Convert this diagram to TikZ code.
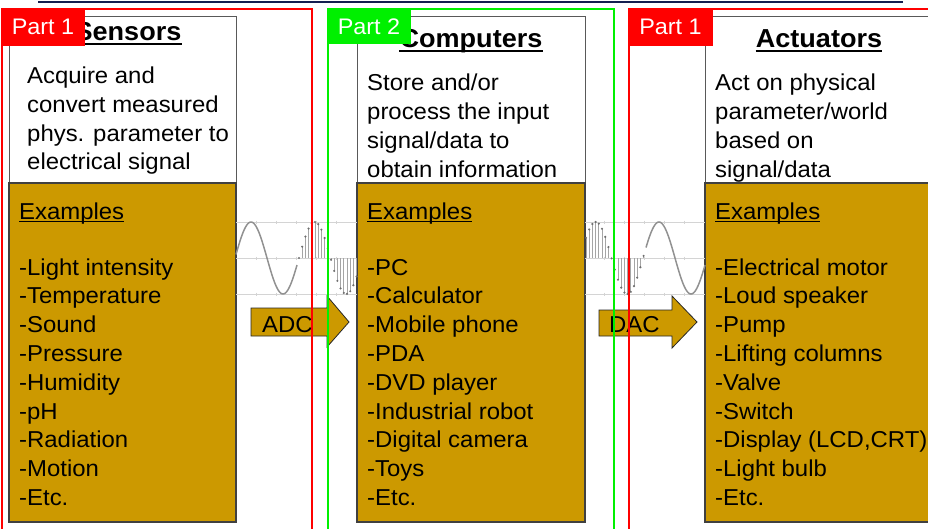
\documentclass[tikz,border=0pt]{standalone}
\usepackage{fontspec}
\setmainfont{Liberation Sans}[FakeStretch=1.04]
\definecolor{gold}{RGB}{204,153,0}
\definecolor{partred}{RGB}{255,0,0}
\definecolor{partgreen}{RGB}{0,240,0}
\definecolor{navy}{RGB}{20,30,80}
\definecolor{wavegray}{RGB}{145,145,145}
\definecolor{stemgray}{RGB}{165,165,165}
\definecolor{dotgray}{RGB}{110,110,110}
\definecolor{gridgray}{RGB}{212,212,212}
\begin{document}
\begin{tikzpicture}[x=1pt,y=-1pt,
  whitebox/.style={draw=black!65,fill=white,line width=0.8pt},
  goldbox/.style={draw=black!75,fill=gold,line width=1.3pt},
  titletext/.style={font=\fontsize{26}{30}\selectfont\bfseries,anchor=base,inner sep=0pt},
  desc/.style={font=\fontsize{23}{28}\selectfont,anchor=base west,inner sep=0pt},
  partlabel/.style={font=\fontsize{22.5}{26}\selectfont,text=white,inner sep=0pt},
  frameline/.style={line width=2pt},
  blockarrow/.style={draw=black!85,fill=gold,line width=0.8pt},
  wave/.style={draw=wavegray,line width=1.5pt},
  stemline/.style={draw=stemgray,line width=1pt},
  gridline/.style={draw=gridgray,line width=0.8pt}]
\useasboundingbox (0,0) rectangle (928,528);
\begin{scope}
\clip (0,0) rectangle (928,528);

% rule across the top
\draw[navy,line width=1.5pt] (38,2) -- (903,2);

% the three blocks: white head, gold list
\foreach \nm/\xa/\xb in {sen/9/236, com/357/585, act/705/945} {
  \draw[whitebox] (\xa,16) rectangle (\xb,183);
  \draw[goldbox] (\xa,183) rectangle (\xb,522);
}

% signal plots between the blocks
\foreach \xa/\xb in {236/357, 585/705} {
  \foreach \yy in {222,258,294}
    \draw[gridline] (\xa,\yy) -- (\xb,\yy);
}
\foreach \tx in {256,276,296,316,336,604,624,644,664,684}
  \foreach \yy in {222,258,294}
    \draw[gridgray,line width=0.8pt] (\tx,\yy-1.5) -- (\tx,\yy+1.5);

% analog input, then its samples (period 64 and 63 units)
\draw[wave] plot[domain=236:297,samples=60] (\x,{258-36*sin(5.625*(\x-235))});
\foreach \s in {299,302.2,...,357} {
  \pgfmathsetmacro{\sy}{258-36*sin(5.714*(\s-299))}
  \draw[stemline] (\s,258) -- (\s,\sy);
  \fill[dotgray] (\s,\sy) circle[radius=1.2];
}
% samples, then the rebuilt analog output
\foreach \s in {586,589.2,...,644} {
  \pgfmathsetmacro{\sy}{258-36*sin(5.714*(\s-580))}
  \draw[stemline] (\s,258) -- (\s,\sy);
  \fill[dotgray] (\s,\sy) circle[radius=1.2];
}
\draw[wave] plot[domain=646:705,samples=60] (\x,{258-36*sin(5.625*(\x-643))});

% converter arrows
\draw[blockarrow] (251,308) -- (327,308) -- (327,296) -- (349,322) -- (327,347) -- (327,336) -- (251,336) -- cycle;
\node[desc] (adc) at (262,332) {ADC};
\draw[blockarrow] (599,310) -- (672,310) -- (672,296) -- (697,322) -- (672,348) -- (672,336) -- (599,336) -- cycle;
\node[desc] (dac) at (609,332) {DAC};

% titles
\node[titletext] (tsen) at (128,40) {Sensors};
\node[titletext] (tcom) at (471,47) {Computers};
\node[titletext] (tact) at (819,47) {Actuators};
\foreach \t in {tsen,tcom,tact}
  \draw[line width=2.6pt] ([yshift=-3.8pt]\t.base west) -- ([yshift=-3.8pt]\t.base east);

% descriptions
\foreach \t [count=\i] in {Acquire and, convert measured, phys. parameter to, electrical signal}
  \node[desc] (dsen\i) at (27,{83.5+28.8*(\i-1)}) {\t};
\foreach \t [count=\i] in {Store and/or, process the input, signal/data to, obtain information}
  \node[desc] (dcom\i) at (367,{90.7+28.8*(\i-1)}) {\t};
\foreach \t [count=\i] in {Act on physical, parameter/world, based on, signal/data}
  \node[desc] (dact\i) at (715,{90.7+28.8*(\i-1)}) {\t};

% example headings
\foreach \nm/\xx in {sen/19, com/367, act/715} {
  \node[desc] (ex\nm) at (\xx,219) {Examples};
  \draw[line width=1.3pt] ([yshift=-2.6pt]ex\nm.base west) -- ([yshift=-2.6pt]ex\nm.base east);
}

% example lists
\foreach \t [count=\i] in {-Light intensity, -Temperature, -Sound, -Pressure, -Humidity, -pH, -Radiation, -Motion, -Etc.}
  \node[desc] (lsen\i) at (19,{275+28.8*(\i-1)}) {\t};
\foreach \t [count=\i] in {-PC, -Calculator, -Mobile phone, -PDA, -DVD player, -Industrial robot, -Digital camera, -Toys, -Etc.}
  \node[desc] (lcom\i) at (367,{275+28.8*(\i-1)}) {\t};
\foreach \t [count=\i] in {-Electrical motor, -Loud speaker, -Pump, -Lifting columns, -Valve, -Switch, {-Display (LCD,CRT)}, -Light bulb, -Etc.}
  \node[desc] (lact\i) at (715,{275+28.8*(\i-1)}) {\t};

% part frames and their tags
\draw[frameline,partred] (1.5,9) rectangle (312,540);
\draw[frameline,partgreen] (327.5,8.5) rectangle (614,540);
\draw[frameline,partred] (629,9) rectangle (940,540);
\fill[partred] (1,8) rectangle (85,46);
\node[partlabel] (p1) at (43,27) {Part 1};
\fill[partgreen] (327,8) rectangle (411,44);
\node[partlabel] (p2) at (369,26.5) {Part 2};
\fill[partred] (628,8) rectangle (713,46);
\node[partlabel] (p3) at (670.5,27) {Part 1};
\end{scope}
\end{tikzpicture}
\end{document}
